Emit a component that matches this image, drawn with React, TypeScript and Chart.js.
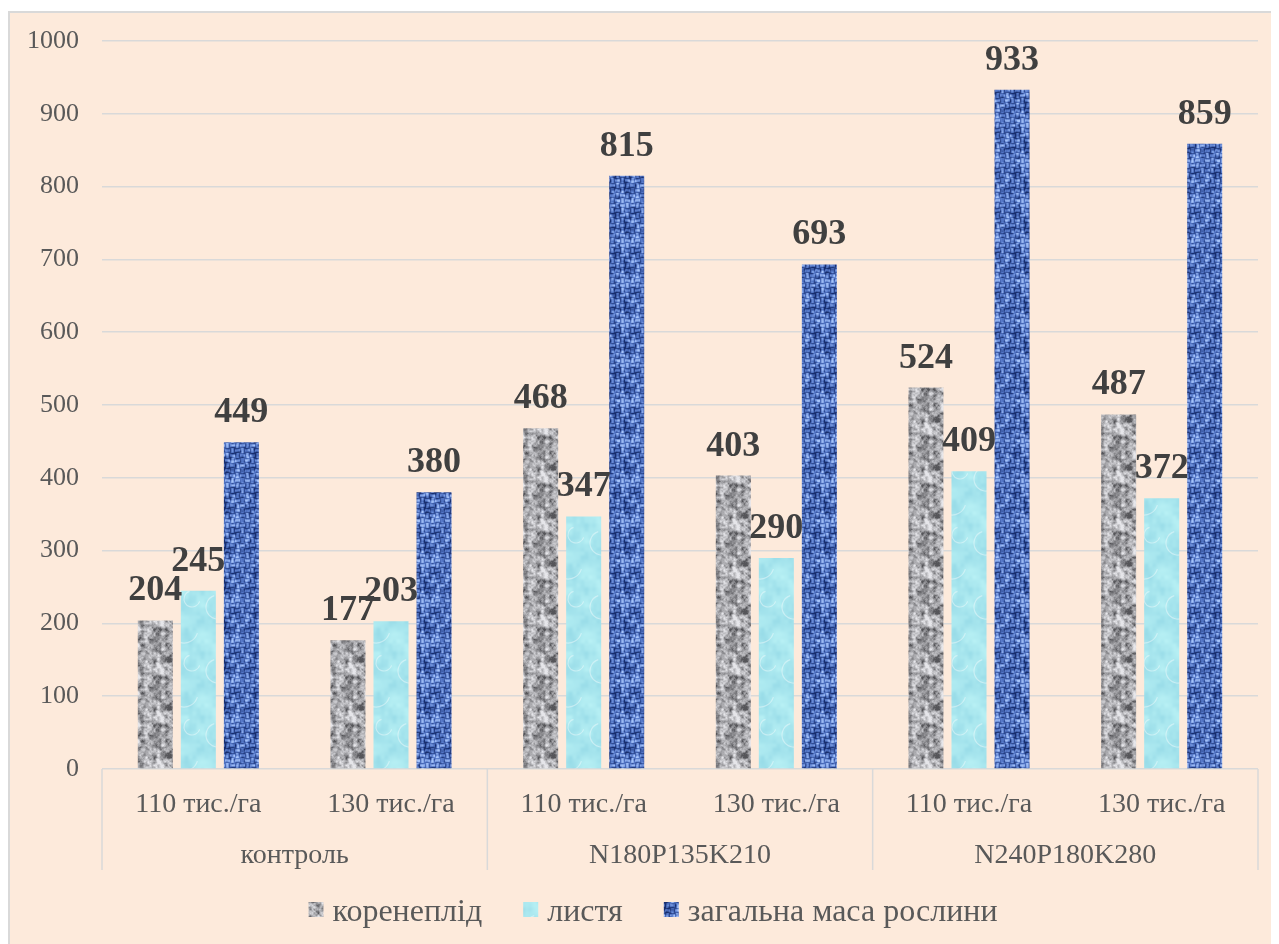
import React, { useEffect, useRef } from "react";
import { Chart, registerables } from "chart.js";

Chart.register(...registerables);

// Sub-categories (planting density) and their fertiliser groups
const SUB_LABELS = ["110 тис./га", "130 тис./га", "110 тис./га", "130 тис./га", "110 тис./га", "130 тис./га"];
const GROUP_LABELS = ["контроль", "N180P135K210", "N240P180K280"];
const SERIES_NAMES = ["коренеплід", "листя", "загальна маса рослини"];

// Values per sub-category
const ROOT_VALUES = [204, 177, 468, 403, 524, 487];
const LEAF_VALUES = [245, 203, 347, 290, 409, 372];
const TOTAL_VALUES = [449, 380, 815, 693, 933, 859];

const Y_MIN = 0;
const Y_MAX = 1000;
const Y_STEP = 100;

const SERIF = '"Liberation Serif", "Times New Roman", serif';
const AXIS_TEXT = "#595959";
const LABEL_TEXT = "#404040";
const GRID = "#d9d9d9";

// deterministic generator for texture grain
function seeded(seed: number) {
  let s = seed >>> 0;
  return () => {
    s = (Math.imul(s, 1664525) + 1013904223) >>> 0;
    return s / 4294967296;
  };
}

// tileable value noise
function valueNoise(size: number, cell: number, rand: () => number) {
  const n = Math.round(size / cell);
  const grid: number[] = [];
  for (let i = 0; i < n * n; i++) grid.push(rand());
  const out = new Float32Array(size * size);
  for (let y = 0; y < size; y++) {
    for (let x = 0; x < size; x++) {
      const fx = x / cell;
      const fy = y / cell;
      const x0 = Math.floor(fx) % n;
      const y0 = Math.floor(fy) % n;
      const x1 = (x0 + 1) % n;
      const y1 = (y0 + 1) % n;
      let tx = fx - Math.floor(fx);
      let ty = fy - Math.floor(fy);
      tx = tx * tx * (3 - 2 * tx);
      ty = ty * ty * (3 - 2 * ty);
      const a = grid[y0 * n + x0] * (1 - tx) + grid[y0 * n + x1] * tx;
      const b = grid[y1 * n + x0] * (1 - tx) + grid[y1 * n + x1] * tx;
      out[y * size + x] = a * (1 - ty) + b * ty;
    }
  }
  return out;
}

function makeCanvas(size: number) {
  const c = document.createElement("canvas");
  c.width = size;
  c.height = size;
  return c;
}

const clamp = (v: number, lo: number, hi: number) => Math.max(lo, Math.min(hi, v));

// light grey stone with darker specks
function graniteTexture() {
  const size = 48;
  const c = makeCanvas(size);
  const ctx = c.getContext("2d")!;
  const rand = seeded(11);
  const n1 = valueNoise(size, 4, rand);
  const n2 = valueNoise(size, 2, rand);
  const img = ctx.createImageData(size, size);
  for (let i = 0; i < size * size; i++) {
    let v = 0.55 * n1[i] + 0.35 * n2[i] + 0.1 * rand();
    v = clamp((v - 0.2) / 0.6, 0, 1);
    const g = 85 + 145 * Math.pow(v, 0.75);
    img.data[i * 4] = g;
    img.data[i * 4 + 1] = g;
    img.data[i * 4 + 2] = g + 4;
    img.data[i * 4 + 3] = 255;
  }
  ctx.putImageData(img, 0, 0);
  return c;
}

// pale cyan with soft ripples
function bubbleTexture() {
  const size = 64;
  const c = makeCanvas(size);
  const ctx = c.getContext("2d")!;
  const rand = seeded(29);
  const n1 = valueNoise(size, 16, rand);
  const n2 = valueNoise(size, 4, rand);
  const img = ctx.createImageData(size, size);
  for (let i = 0; i < size * size; i++) {
    const v = 0.7 * n1[i] + 0.3 * n2[i] - 0.5;
    img.data[i * 4] = 168 + v * 45;
    img.data[i * 4 + 1] = 230 + v * 30;
    img.data[i * 4 + 2] = 238 + v * 18;
    img.data[i * 4 + 3] = 255;
  }
  ctx.putImageData(img, 0, 0);
  ctx.strokeStyle = "rgba(255,255,255,0.4)";
  ctx.lineWidth = 1.2;
  const rings = [
    [16, 18, 12],
    [46, 40, 14],
    [30, 56, 9],
    [54, 10, 8],
  ];
  for (const [x, y, r] of rings) {
    for (const dx of [-size, 0, size]) {
      for (const dy of [-size, 0, size]) {
        ctx.beginPath();
        ctx.arc(x + dx, y + dy, r, 0.3, Math.PI * 1.4);
        ctx.stroke();
      }
    }
  }
  return c;
}

// blue burlap weave
function wovenTexture() {
  const size = 40;
  const c = makeCanvas(size);
  const ctx = c.getContext("2d")!;
  const rand = seeded(53);
  const n1 = valueNoise(size, 4, rand);
  const n2 = valueNoise(size, 2, rand);
  const img = ctx.createImageData(size, size);
  for (let y = 0; y < size; y++) {
    for (let x = 0; x < size; x++) {
      const i = y * size + x;
      const horiz = (Math.floor(x / 5) + Math.floor(y / 5)) % 2 === 0;
      const t = horiz ? (y % 5) / 4 : (x % 5) / 4;
      const ridge = Math.sin(t * Math.PI);
      let v = 0.3 * ridge + 0.45 * n1[i] + 0.25 * n2[i];
      v = clamp((v - 0.15) / 0.65, 0, 1);
      let r: number, g: number, b: number;
      if (v < 0.55) {
        const k = v / 0.55;
        r = 22 + k * (85 - 22);
        g = 45 + k * (120 - 45);
        b = 110 + k * (200 - 110);
      } else {
        const k = (v - 0.55) / 0.45;
        r = 85 + k * (165 - 85);
        g = 120 + k * (195 - 120);
        b = 200 + k * (250 - 200);
      }
      img.data[i * 4] = r;
      img.data[i * 4 + 1] = g;
      img.data[i * 4 + 2] = b;
      img.data[i * 4 + 3] = 255;
    }
  }
  ctx.putImageData(img, 0, 0);
  return c;
}

export default function App() {
  const canvasRef = useRef<HTMLCanvasElement | null>(null);

  useEffect(() => {
    document.body.style.overflow = "hidden";
    document.documentElement.style.overflow = "hidden";
    const canvas = canvasRef.current;
    if (!canvas) return;
    const ctx0 = canvas.getContext("2d")!;
    const textures = [graniteTexture(), bubbleTexture(), wovenTexture()];
    const patterns = textures.map((t) => ctx0.createPattern(t, "repeat")!);
    const seriesValues = [ROOT_VALUES, LEAF_VALUES, TOTAL_VALUES];

    const axisAndLegend = {
      id: "axisAndLegend",
      afterDatasetsDraw(chart: any) {
        const ctx = chart.ctx;
        ctx.save();
        ctx.font = `bold 36px ${SERIF}`;
        ctx.fillStyle = LABEL_TEXT;
        ctx.textAlign = "center";
        ctx.textBaseline = "alphabetic";
        chart.data.datasets.forEach((ds: any, di: number) => {
          const meta = chart.getDatasetMeta(di);
          meta.data.forEach((bar: any, i: number) => {
            ctx.fillText(String(ds.data[i]), bar.x, bar.y - 20);
          });
        });
        ctx.restore();
      },
      afterDraw(chart: any) {
        const ctx = chart.ctx;
        const xs = chart.scales.x;
        const area = chart.chartArea;
        const bottom = area.bottom;
        ctx.save();
        // group separators
        ctx.strokeStyle = GRID;
        ctx.lineWidth = 1.5;
        const bounds: number[] = [area.left];
        for (let g = 1; g < GROUP_LABELS.length; g++) {
          bounds.push((xs.getPixelForValue(2 * g - 1) + xs.getPixelForValue(2 * g)) / 2);
        }
        bounds.push(area.right);
        for (const bx of bounds) {
          ctx.beginPath();
          ctx.moveTo(bx, bottom);
          ctx.lineTo(bx, bottom + 101);
          ctx.stroke();
        }
        // sub-category labels
        ctx.font = `28px ${SERIF}`;
        ctx.fillStyle = AXIS_TEXT;
        ctx.textAlign = "center";
        ctx.textBaseline = "alphabetic";
        SUB_LABELS.forEach((lab, i) => {
          ctx.fillText(lab, xs.getPixelForValue(i), bottom + 43);
        });
        // group labels
        GROUP_LABELS.forEach((lab, g) => {
          const cx = (xs.getPixelForValue(2 * g) + xs.getPixelForValue(2 * g + 1)) / 2;
          ctx.fillText(lab, cx, bottom + 94);
        });
        // legend
        ctx.font = `32px ${SERIF}`;
        const box = 15;
        const gapText = 9;
        const gapItem = 41;
        ctx.textAlign = "left";
        const widths = SERIES_NAMES.map((s) => ctx.measureText(s).width);
        const total =
          widths.reduce((a, b) => a + b, 0) + SERIES_NAMES.length * (box + gapText) + gapItem * (SERIES_NAMES.length - 1);
        let lx = chart.width / 2 - total / 2;
        const base = bottom + 152;
        SERIES_NAMES.forEach((name, i) => {
          ctx.fillStyle = patterns[i];
          ctx.fillRect(lx, base - 19, box, box);
          ctx.fillStyle = AXIS_TEXT;
          ctx.fillText(name, lx + box + gapText, base);
          lx += box + gapText + widths[i] + gapItem;
        });
        ctx.restore();
      },
    };

    const chart = new Chart(canvas, {
      type: "bar",
      data: {
        labels: SUB_LABELS,
        datasets: SERIES_NAMES.map((name, i) => ({
          label: name,
          data: seriesValues[i],
          backgroundColor: patterns[i],
          borderWidth: 0,
          categoryPercentage: 0.67,
          barPercentage: 0.814,
        })),
      },
      options: {
        animation: false,
        responsive: true,
        maintainAspectRatio: false,
        layout: { padding: { top: 28, right: 38, left: 0, bottom: 0 } },
        plugins: { legend: { display: false }, tooltip: { enabled: false } },
        scales: {
          x: {
            grid: { display: false, drawTicks: false },
            border: { display: false },
            ticks: { display: false },
            afterFit: (s: any) => {
              s.height = 190;
            },
          },
          y: {
            min: Y_MIN,
            max: Y_MAX,
            ticks: {
              stepSize: Y_STEP,
              color: AXIS_TEXT,
              font: { family: SERIF, size: 26 },
              padding: 23,
              callback: (v: any) => String(v),
            },
            grid: { color: GRID, lineWidth: 1.5, drawTicks: false },
            border: { display: false },
            afterFit: (s: any) => {
              s.width = 92;
              s.paddingTop = 0;
              s.paddingBottom = 0;
            },
          },
        },
      },
      plugins: [axisAndLegend],
    });
    return () => chart.destroy();
  }, []);

  return (
    <div
      style={{
        marginTop: 3,
        width: 1290,
        height: 950,
        border: `2px solid ${GRID}`,
        background: "#FDEADB",
        boxSizing: "border-box",
      }}
    >
      <div style={{ position: "relative", width: 1286, height: 946 }}>
        <canvas ref={canvasRef} />
      </div>
    </div>
  );
}
